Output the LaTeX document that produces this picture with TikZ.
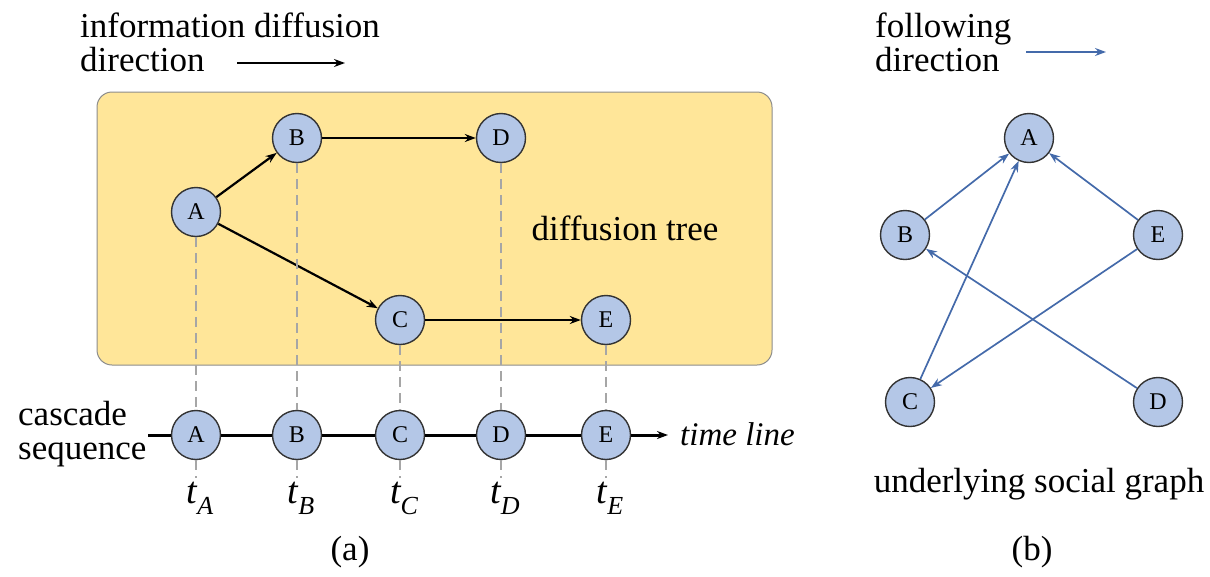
\documentclass[tikz,border=0pt]{standalone}
\usepackage{fontspec}
\setmainfont{Liberation Serif}
\usepackage{tikz}
\usetikzlibrary{arrows.meta, positioning}
\definecolor{treefill}{RGB}{255,230,153}
\definecolor{treeborder}{RGB}{140,140,140}
\definecolor{nodefill}{RGB}{180,199,231}
\definecolor{followblue}{RGB}{68,106,170}
\definecolor{guidegray}{RGB}{166,166,166}
\newcommand{\tstamp}[1]{{\itshape t}\raisebox{-0.3em}{\fontsize{26}{26}\selectfont\itshape #1}}

\begin{document}
\begin{tikzpicture}[x=1pt, y=-1pt,
  vert/.style={circle, draw=black!80, fill=nodefill, line width=1.4pt, minimum size=49pt, inner sep=0pt, font=\fontsize{24}{24}\selectfont},
  txt/.style={font=\fontsize{35}{34}\selectfont, inner sep=0pt},
  treearrow/.style={-{Stealth[length=11pt,width=8pt]}, line width=2.2pt},
  follow/.style={-{Stealth[length=11pt,width=8pt]}, line width=1.7pt, draw=followblue},
  guide/.style={draw=guidegray, line width=2.8pt, dash pattern=on 10pt off 6pt}]
   \useasboundingbox (0,0) rectangle (1210,576);

   % (a) diffusion tree
   \node[txt, align=left, anchor=north west] (infotxt) at (80,13) {information diffusion\\direction};
   \coordinate (dirL1) at (237,63);
   \coordinate (dirL2) at (345,63);
   \draw[treearrow] (dirL1) -- (dirL2);

   \draw[fill=treefill, draw=treeborder, line width=1pt, rounded corners=15pt] (97,92) rectangle (772,365);
   \node[txt, anchor=base] (treetxt) at (625,240) {diffusion tree};

   \node[vert] (A) at (196,212) {A};
   \node[vert] (B) at (297,138) {B};
   \node[vert] (D) at (501,138) {D};
   \node[vert] (C) at (400,320) {C};
   \node[vert] (E) at (606,320) {E};

   \path[treearrow]
    (A) edge (B)
    (B) edge (D)
    (A) edge (C)
    (C) edge (E);

   % cascade sequence on the time line
   \node[txt, align=left, anchor=north west] (casctxt) at (18,401) {cascade\\sequence};
   \node[vert] (sA) at (196,435) {A};
   \node[vert] (sB) at (297,435) {B};
   \node[vert] (sC) at (400,435) {C};
   \node[vert] (sD) at (501,435) {D};
   \node[vert] (sE) at (606,435) {E};
   \coordinate (tlstart) at (148,435);
   \coordinate (tlend) at (668,435);
   \draw[line width=3pt] (tlstart) -- (sA) -- (sB) -- (sC) -- (sD) -- (sE);
   \draw[treearrow, line width=3pt] (sE) -- (tlend);
   \node[font=\fontsize{33}{33}\selectfont\itshape, anchor=base west, inner sep=0pt] (tltxt) at (680,445) {time line};

   \foreach \n in {A,B,C,D,E}{
     \node[font=\fontsize{38}{38}\selectfont, anchor=base, inner sep=3pt] (t\n) at ([xshift=4pt,yshift=-68pt]s\n.center) {\tstamp{\n}};
     \draw[guide] (\n) -- (s\n);
     \draw[guide] (s\n) -- (s\n |- t\n.north);
   }
   \node[txt, anchor=base] (alabel) at (350,560) {(a)};

   % (b) social graph
   \node[txt, align=left, anchor=north west] (followtxt) at (875,13) {following\\direction};
   \coordinate (dirR1) at (1026,52);
   \coordinate (dirR2) at (1106,52);
   \draw[follow] (dirR1) -- (dirR2);

   \node[vert] (gA) at (1029,138) {A};
   \node[vert] (gB) at (905,235) {B};
   \node[vert] (gE) at (1158,235) {E};
   \node[vert] (gC) at (910,402) {C};
   \node[vert] (gD) at (1158,402) {D};

   \path[follow]
    (gB) edge (gA)
    (gC) edge (gA)
    (gE) edge (gA)
    (gE) edge (gC)
    (gD) edge (gB);

   \node[txt, anchor=base] (graphtxt) at (1039,492) {underlying social graph};
   \node[txt, anchor=base] (blabel) at (1032,560) {(b)};
\end{tikzpicture}
\end{document}
